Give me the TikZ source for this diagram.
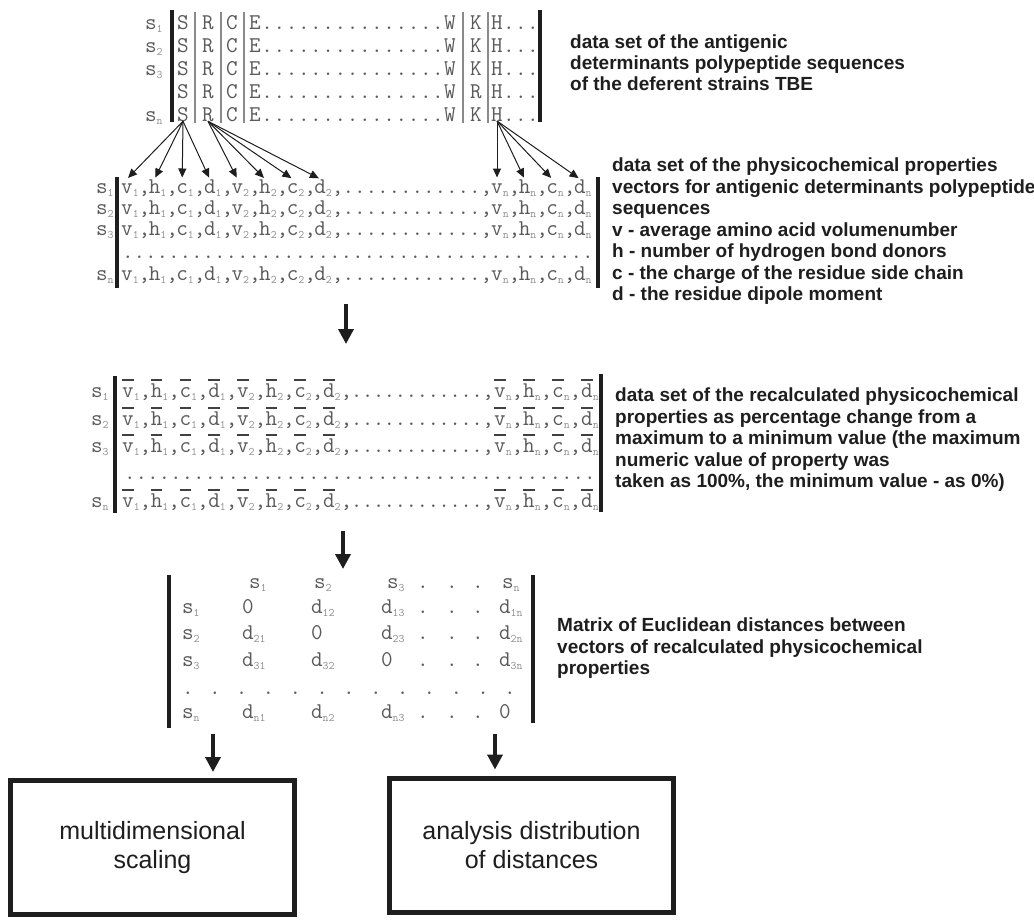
\documentclass[tikz,border=0pt]{standalone}
\usepackage{fontspec}
\setsansfont{Liberation Sans}
\usetikzlibrary{arrows.meta}
\definecolor{txt}{HTML}{5A5A5A}
\definecolor{subc}{HTML}{8E8E8E}
\definecolor{ink}{HTML}{1E1E1E}
\definecolor{sepc}{HTML}{8A8A8A}
\newcommand\sbs[1]{\raisebox{-3pt}{\fontsize{11.5}{11.5}\selectfont\color{subc}#1}}
\tikzset{
 tt/.style={font=\ttfamily\fontsize{22.5}{22.5}\selectfont, text=txt, inner sep=0pt, outer sep=0pt, anchor=base},
 ttl/.style={tt, anchor=base west},
 lett/.style={text height=14pt, text depth=0pt},
 lbl/.style={font=\sffamily\bfseries\fontsize{19}{19}\selectfont, text=ink, inner sep=0pt, anchor=base west},
 vbar/.style={line width=3.4pt, draw=ink},
 sepline/.style={line width=1.1pt, draw=sepc},
 obar/.style={line width=1.7pt, draw=ink!85},
 thinarr/.style={line width=1pt, draw=ink, -{Triangle[width=8pt,length=9pt]}, shorten >=1.5pt},
 bigarr/.style={line width=3.6pt, draw=ink, -{Triangle[width=15pt,length=15pt]}},
 bigbox/.style={draw=ink, line width=5pt, minimum width=284pt, minimum height=134pt, align=center, font=\sffamily\fontsize{25}{29}\selectfont, text=ink, inner sep=0pt},
}
\begin{document}
\begin{tikzpicture}[x=1pt,y=-1pt]
\fill[white] (0,0) rectangle (1034,921);
\useasboundingbox (0,0) rectangle (1034,921);

% ---------------- block 1: sequences ----------------
\node[ttl] (A1-lab) at (145,29) {s\sbs{1}};
\node[ttl] (A2-lab) at (145,52) {s\sbs{2}};
\node[ttl] (A3-lab) at (145,75) {s\sbs{3}};
\node[ttl] (A5-lab) at (145,121) {s\sbs{n}};
\foreach \r/\yb/\kk in {1/29/K,2/52/K,3/75/K,4/98/R,5/121/K}{
  \node[tt] (A\r-S) at (183,\yb) {S};
  \node[tt] (A\r-R) at (208,\yb) {R};
  \node[tt] (A\r-C) at (232,\yb) {C};
  \node[tt] (A\r-E) at (255,\yb) {E};
  \foreach \k in {1,...,15} \node[tt] (A\r-d\k) at ({255+12.2*\k},\yb) {.};
  \node[tt] (A\r-W) at (450,\yb) {W};
  \node[tt] (A\r-K) at (476,\yb) {\kk};
  \node[tt] (A\r-H) at (497,\yb) {H};
  \foreach \k in {1,2,3} \node[tt] (A\r-h\k) at ({497+12*\k},\yb) {.};
}
\foreach \x in {195,221,244,463,488} \draw[sepline] (\x,12) -- (\x,123);
\draw[vbar] (172,10) -- (172,122);
\draw[vbar] (540,10) -- (540,122);
\foreach \t [count=\i] in {data set of the antigenic,determinants polypeptide sequences,of the deferent strains TBE}
  \node[lbl] (T1-\i) at (570,{48.7+21*(\i-1)}) {\t};

% ---------------- block 2: property vectors ----------------
\foreach \r/\yb/\lab in {1/193/1,2/214/2,3/235/3,4/280/n}{
  \node[ttl] (B\r-lab) at (96,\yb) {s\sbs{\lab}};
  \foreach \i/\L/\n in {1/v/1,2/h/1,3/c/1,4/d/1,5/v/2,6/h/2,7/c/2,8/d/2}{
    \node[tt,lett] (B\r-L\i) at ({127+27.6*(\i-1)},\yb) {\L};
    \node[ttl] (B\r-T\i) at (B\r-L\i.base east) {\sbs{\n},};
  }
  \foreach \k in {1,...,12} \node[tt] (B\r-d\k) at ({337+11.5*\k},\yb) {.};
  \node[tt] (B\r-cm) at (486.4,\yb) {,};
  \foreach \i/\L in {9/v,10/h,11/c,12/d}
    \node[tt,lett] (B\r-L\i) at ({497+27.6*(\i-9)},\yb) {\L};
  \foreach \i in {9,10,11} \node[ttl] (B\r-T\i) at (B\r-L\i.base east) {\sbs{n},};
  \node[ttl] (B\r-T12) at (B\r-L12.base east) {\sbs{n}};
}
\foreach \k in {0,...,40} \node[tt] (B0-d\k) at ({128+11.5*\k},258) {.};
\draw[vbar] (117,177) -- (117,288);
\draw[vbar] (598,177) -- (598,288);
\foreach \t [count=\i] in {data set of the physicochemical properties,vectors for antigenic determinants polypeptide,sequences,v - average amino acid volumenumber,h - number of hydrogen bond donors,c - the charge of the residue side chain,d - the residue dipole moment}
  \node[lbl] (T2-\i) at (612,{171.5+21.5*(\i-1)}) {\t};

% arrows from residues to property components
\foreach \i in {1,2,3,4} \draw[thinarr] (A5-S.south) -- (B1-L\i.north);
\foreach \i in {5,6,7,8} \draw[thinarr] (A5-R.south) -- (B1-L\i.north);
\foreach \i in {9,10,11,12} \draw[thinarr] (A5-H.south) -- (B1-L\i.north);

% ---------------- block 3: recalculated vectors ----------------
\foreach \r/\yb/\lab in {1/397/1,2/425/2,3/452/3,4/507/n}{
  \node[ttl] (C\r-lab) at (91,\yb) {s\sbs{\lab}};
  \foreach \i/\L/\n in {1/v/1,2/h/1,3/c/1,4/d/1,5/v/2,6/h/2,7/c/2,8/d/2}{
    \node[tt,lett] (C\r-L\i) at ({128+28.7*(\i-1)},\yb) {\L};
    \node[ttl] (C\r-T\i) at (C\r-L\i.base east) {\sbs{\n},};
  }
  \foreach \k in {1,...,12} \node[tt] (C\r-d\k) at ({345.7+10.95*\k},\yb) {.};
  \node[tt] (C\r-cm) at (488.1,\yb) {,};
  \foreach \i/\L in {9/v,10/h,11/c,12/d}
    \node[tt,lett] (C\r-L\i) at ({500+29*(\i-9)},\yb) {\L};
  \foreach \i in {9,10,11} \node[ttl] (C\r-T\i) at (C\r-L\i.base east) {\sbs{n},};
  \node[ttl] (C\r-T12) at (C\r-L12.base east) {\sbs{n}};
  \foreach \i in {1,...,12}
    \draw[obar] ([yshift=3pt]C\r-L\i.north west) -- ([yshift=3pt]C\r-L\i.north east);
}
\foreach \k in {0,...,40} \node[tt] (C0-d\k) at ({130+11.5*\k},479) {.};
\draw[vbar] (115,376) -- (115,513);
\draw[vbar] (601,374) -- (601,512);
\foreach \t [count=\i] in {data set of the recalculated physicochemical,properties as percentage change from a,maximum to a minimum value (the maximum,numeric value of property was,{taken as 100\%, the minimum value - as 0\%)}}
  \node[lbl] (T3-\i) at (615,{401.5+21.5*(\i-1)}) {\t};

% ---------------- block 4: distance matrix ----------------
\node[ttl] (H-1) at (249,588) {s\sbs{1}};
\node[ttl] (H-2) at (314,588) {s\sbs{2}};
\node[ttl] (H-3) at (387,588) {s\sbs{3}};
\node[ttl] (H-n) at (502,588) {s\sbs{n}};
\foreach \x [count=\k] in {423,452,478} \node[tt] (H-d\k) at (\x,588) {.};
\foreach \r/\yb/\lab/\ca/\cb/\cc/\cd in {%
  1/613/1/0/d\sbs{12}/d\sbs{13}/d\sbs{1n},
  2/639/2/d\sbs{21}/0/d\sbs{23}/d\sbs{2n},
  3/666/3/d\sbs{31}/d\sbs{32}/0/d\sbs{3n},
  4/718/n/d\sbs{n1}/d\sbs{n2}/d\sbs{n3}/0}{
  \node[ttl] (D\r-lab) at (182,\yb) {s\sbs{\lab}};
  \node[ttl] (D\r-1) at (242,\yb) {\ca};
  \node[ttl] (D\r-2) at (311,\yb) {\cb};
  \node[ttl] (D\r-3) at (381,\yb) {\cc};
  \foreach \x [count=\k] in {423,452,478} \node[tt] (D\r-d\k) at (\x,\yb) {.};
  \node[ttl] (D\r-4) at (499,\yb) {\cd};
}
\foreach \k in {0,...,12} \node[tt] (D0-d\k) at ({188+26.83*\k},694) {.};
\draw[vbar] (169,575) -- (169,728);
\draw[vbar] (533,575) -- (533,723);
\foreach \t [count=\i] in {Matrix of Euclidean distances between,vectors of recalculated physicochemical,properties}
  \node[lbl] (T4-\i) at (557,{631.5+21.5*(\i-1)}) {\t};

% ---------------- result boxes ----------------
\node[bigbox] (box1) at (152.5,847.5) {multidimensional\\scaling};
\node[bigbox] (box2) at (531.5,845) {analysis distribution\\of distances};

% ---------------- flow arrows ----------------
\coordinate (f1s) at (346,304);
\coordinate (f1e) at (346,344);
\coordinate (f2s) at (343,531);
\coordinate (f2e) at (343,569);
\coordinate (f3s) at (213,734);
\coordinate (f4s) at (495,734);
\draw[bigarr] (f1s) -- (f1e);
\draw[bigarr] (f2s) -- (f2e);
\draw[bigarr, shorten >=6pt] (f3s) -- (f3s |- box1.north);
\draw[bigarr, shorten >=6pt] (f4s) -- (f4s |- box2.north);
\end{tikzpicture}
\end{document}
